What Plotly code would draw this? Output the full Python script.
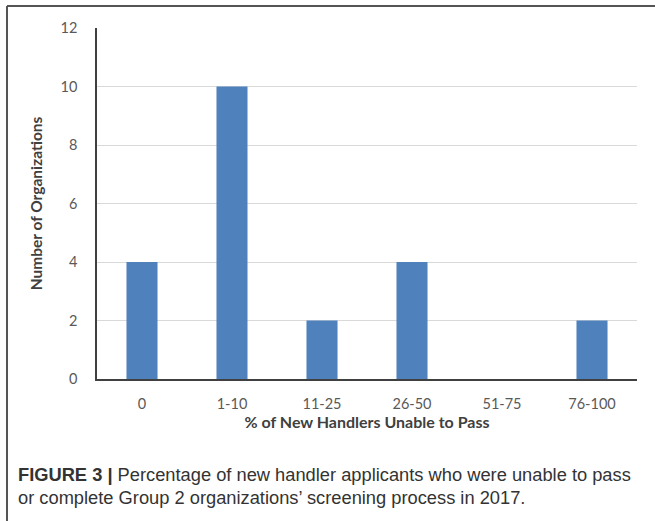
import plotly.graph_objects as go

categories = ["0", "1-10", "11-25", "26-50", "51-75", "76-100"]
counts = [4, 10, 2, 4, 0, 2]
y_ticks = [0, 2, 4, 6, 8, 10, 12]

W, H = 655, 521
L, R, T, B = 97, 18, 28, 142

fig = go.Figure(go.Bar(
    x=categories, y=counts,
    marker=dict(color="#4F81BD", line=dict(width=0)),
))

tick_font = dict(family="Lato, Carlito, sans-serif", size=14.5, color="#595959")
xtitle_font = dict(family="Lato, Carlito, sans-serif", size=16, color="#404040")
ytitle_font = dict(family="Lato, Carlito, sans-serif", size=15.5, color="#404040")

fig.update_layout(
    width=W, height=H,
    margin=dict(l=L, r=R, t=T, b=B),
    paper_bgcolor="white", plot_bgcolor="white",
    bargap=0.655,
    showlegend=False,
    xaxis=dict(
        type="category", showgrid=False, showline=True, linecolor="#404040", linewidth=1.5,
        ticks="", tickfont=tick_font, ticklabelstandoff=11,
        title=dict(text="<b>% of New Handlers Unable to Pass</b>", font=xtitle_font, standoff=6),
    ),
    yaxis=dict(
        range=[0, 12], tickvals=y_ticks, showgrid=True, gridcolor="#D9D9D9", gridwidth=1,
        showline=True, linecolor="#404040", linewidth=1.5, ticks="", zeroline=False,
        tickfont=tick_font, ticklabelstandoff=15,
        title=dict(text="<b>Number of Organizations</b>", font=ytitle_font, standoff=14),
    ),
)

pw, ph = W - L - R, H - T - B
# frame around figure (top and left edges visible)
fig.add_shape(type="line", xref="paper", yref="paper",
              x0=-(L - 7) / pw, x1=(W - L + 5) / pw,
              y0=(H - B - 6) / ph, y1=(H - B - 6) / ph,
              line=dict(color="#555555", width=2))
fig.add_shape(type="line", xref="paper", yref="paper",
              x0=-(L - 7) / pw, x1=-(L - 7) / pw,
              y0=(H - B - 6) / ph, y1=-(B + 5) / ph,
              line=dict(color="#555555", width=2))

cap_font = dict(family="Liberation Sans, Arial, sans-serif", size=18.3, color="#333333")
fig.add_annotation(
    xref="paper", yref="paper", x=-(L - 16) / pw, y=-(474 - (H - B)) / ph,
    xanchor="left", yanchor="middle", align="left", showarrow=False,
    text="<b>FIGURE 3 |</b> Percentage of new handler applicants who were unable to pass",
    font=cap_font,
)
fig.add_annotation(
    xref="paper", yref="paper", x=-(L - 16) / pw, y=-(497 - (H - B)) / ph,
    xanchor="left", yanchor="middle", align="left", showarrow=False,
    text="or complete Group 2 organizations\u2019 screening process in 2017.",
    font=cap_font,
)

fig.write_html("out.html", config={"displayModeBar": False},
               post_script="document.body.style.margin='0';")
